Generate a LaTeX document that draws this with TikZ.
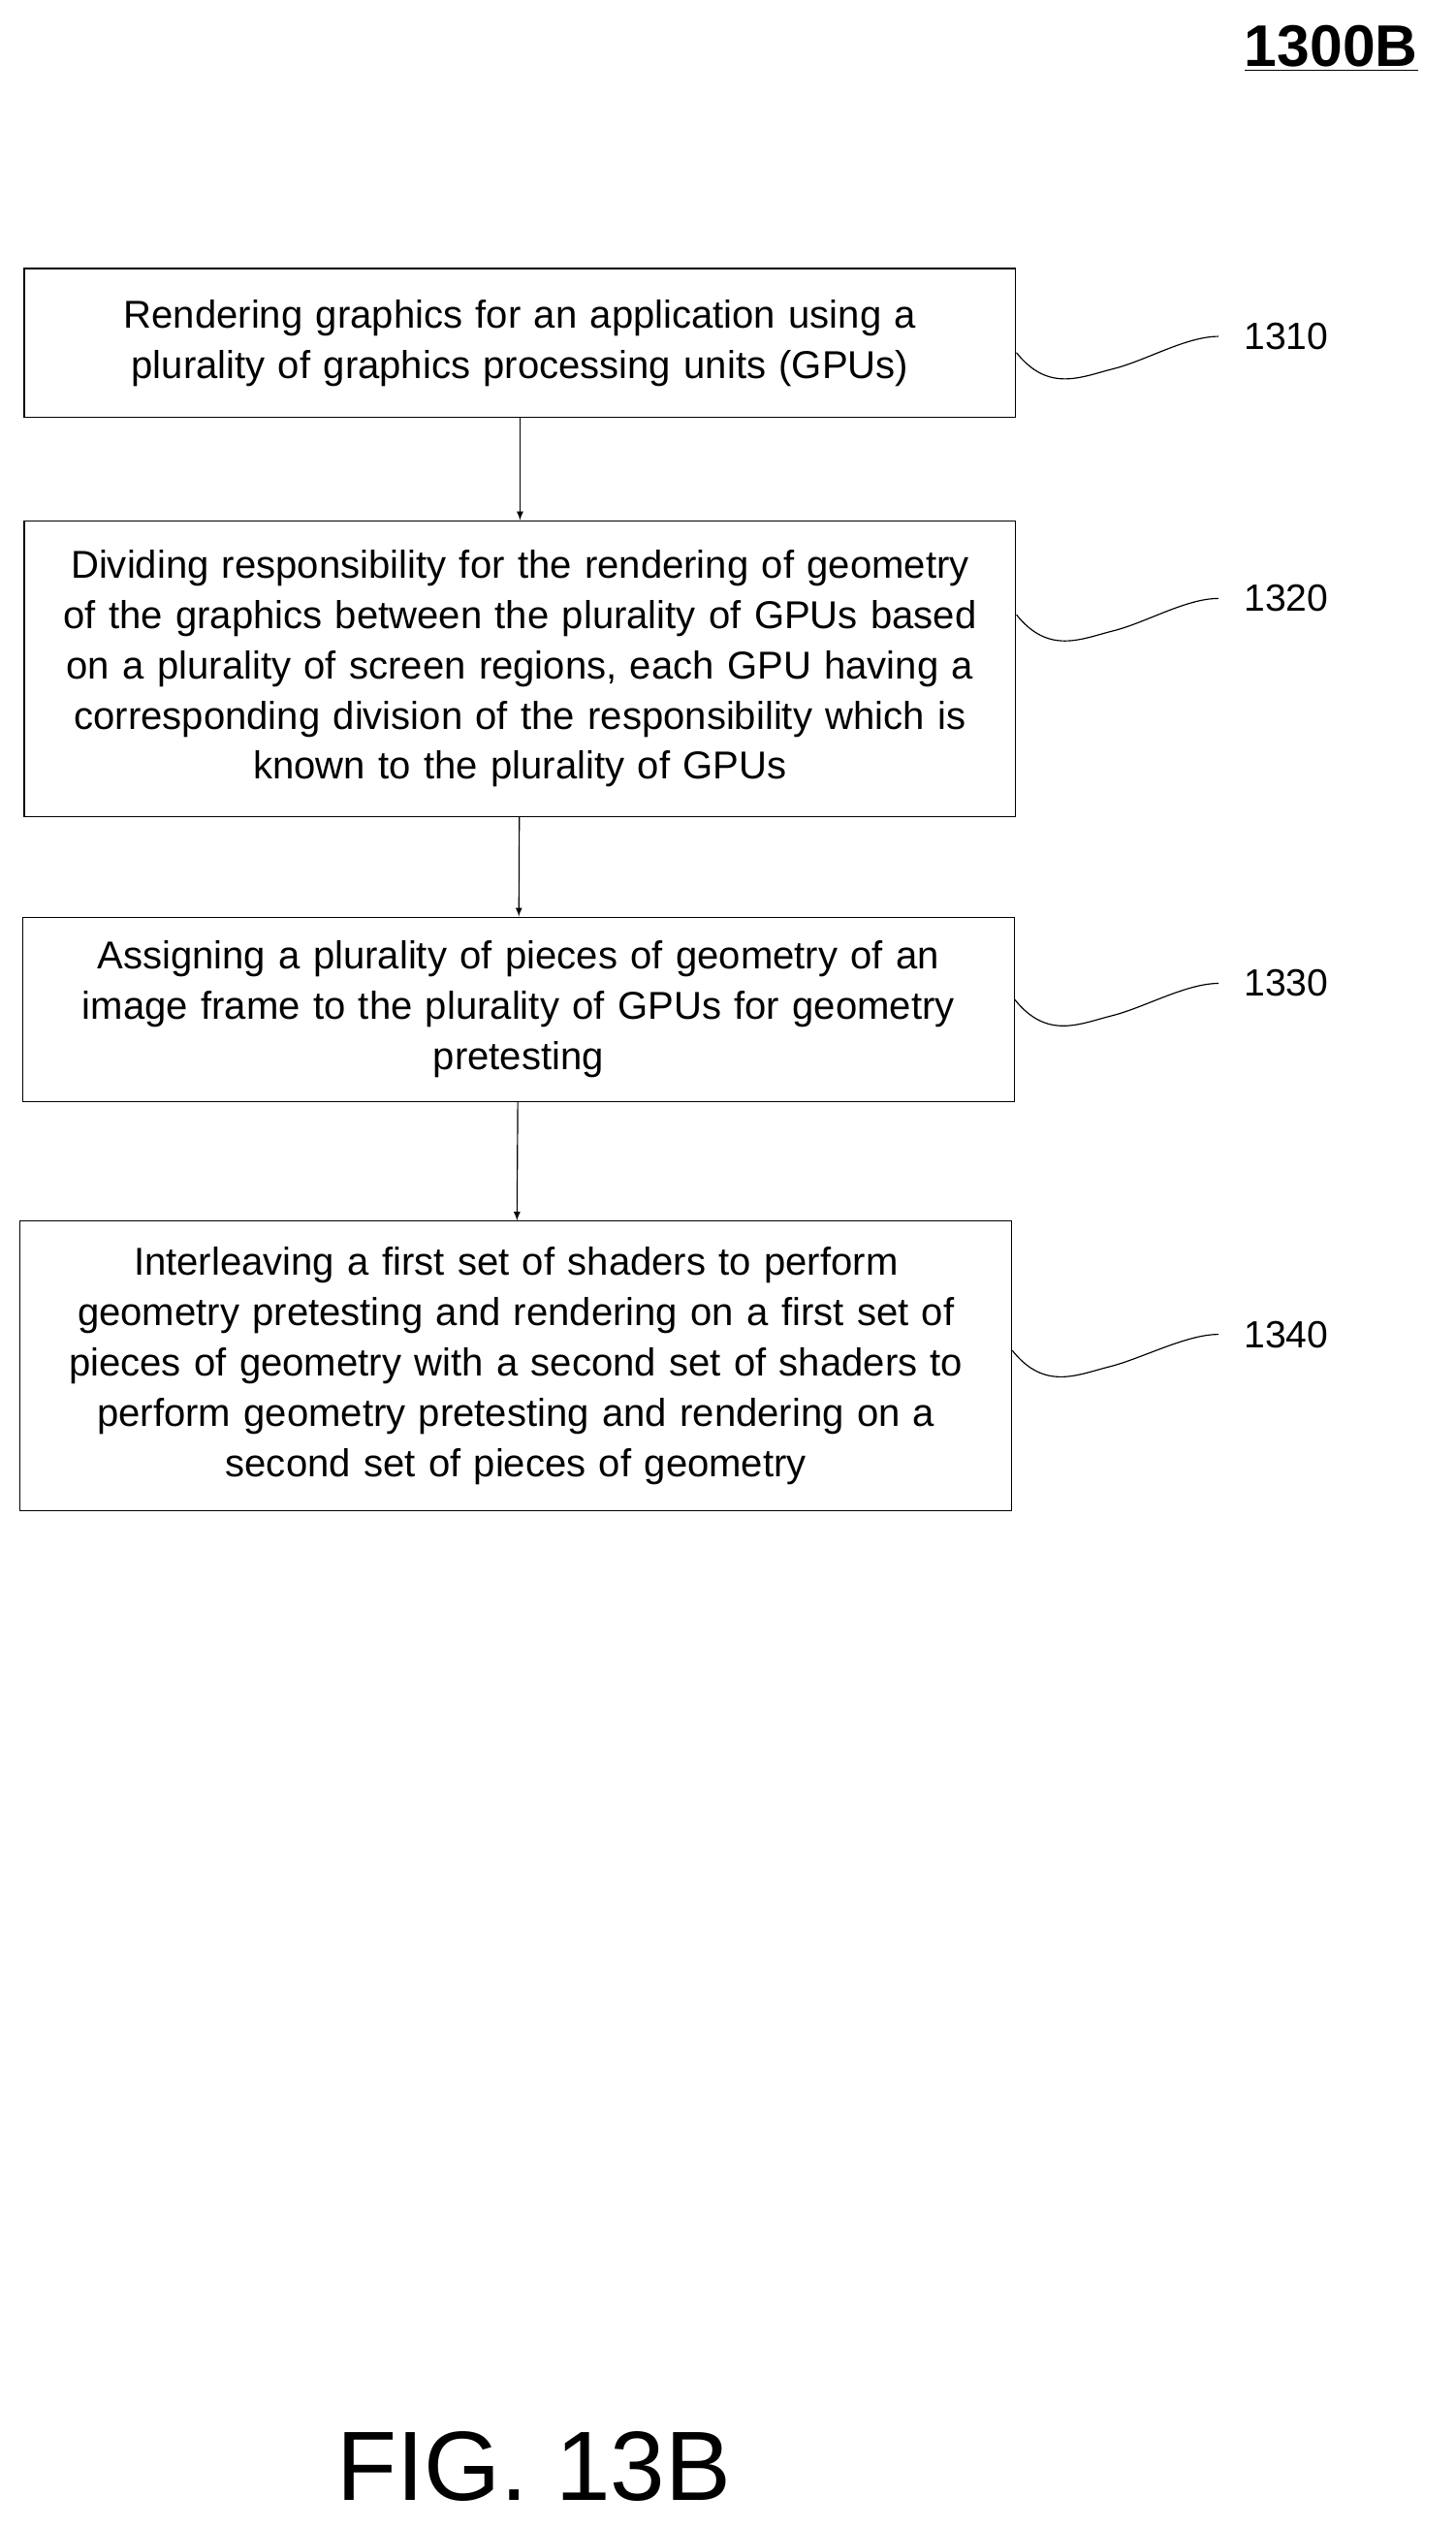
\documentclass[tikz,border=0pt]{standalone}
\usepackage{fontspec}
\setmainfont{Liberation Sans}
\usetikzlibrary{positioning}
\tikzset{
  stepbox/.style={draw,semithick,minimum width=18.39cm,align=center,text width=17.9cm,
    font=\fontsize{20.5}{26.5}\selectfont},
  reflabel/.style={font=\fontsize{20}{23}\selectfont,anchor=west},
}
\begin{document}
\begin{tikzpicture}[x=0.03cm,y=-0.03cm]
\useasboundingbox (0,0) rectangle (900,1563);

\node[font=\fontsize{31}{33}\selectfont\bfseries] (title) at (823,30) {\underline{1300B}};

\node[stepbox,minimum height=2.76cm](s1) at (321.5,212) {Rendering graphics for an application using a\\plurality of graphics processing units (GPUs)};
\node[stepbox,minimum height=5.49cm](s2) at (321.5,413.5) {Dividing responsibility for the rendering of geometry\\of the graphics between the plurality of GPUs based\\on a plurality of screen regions, each GPU having a\\corresponding division of the responsibility which is\\known to the plurality of GPUs};
\node[stepbox,minimum height=3.42cm](s3) at (320.5,624) {Assigning a plurality of pieces of geometry of an\\image frame to the plurality of GPUs for geometry\\pretesting};
\node[stepbox,minimum height=5.37cm](s4) at (319,844.5) {Interleaving a first set of shaders to perform\\geometry pretesting and rendering on a first set of\\pieces of geometry with a second set of shaders to\\perform geometry pretesting and rendering on a\\second set of pieces of geometry};

\draw[semithick,-latex] (s1) -- (s2);
\draw[semithick,-latex] (s2) -- (s3);
\draw[semithick,-latex] (s3) -- (s4);

% reference numerals
\node[reflabel](r1) at (765,208) {1310};
\node[reflabel](r2) at (765,370) {1320};
\node[reflabel](r3) at (765,608) {1330};
\node[reflabel](r4) at (765,825) {1340};

\foreach \s/\r in {s1/r1,s2/r2,s3/r3,s4/r4}{
  \draw[semithick] ([yshift=-0.3cm]\s.east |- \r.west) .. controls +(20,25) and +(-20,5) .. ++(60,10)
        .. controls +(20,-5) and +(-20,0) .. ([xshift=-0.35cm]\r.west);
}

\node[font=\fontsize{52}{56}\selectfont] (fig) at (330,1525) {FIG. 13B};
\end{tikzpicture}
\end{document}
